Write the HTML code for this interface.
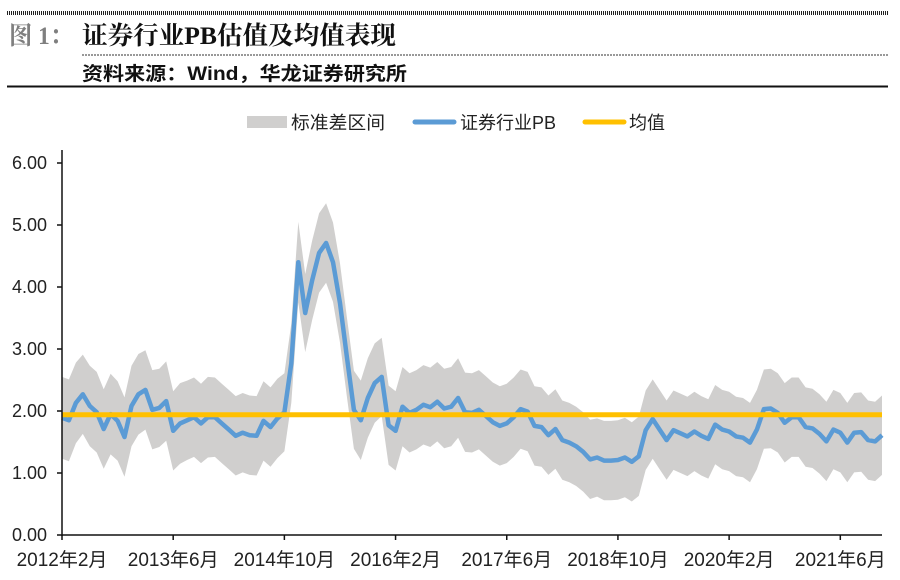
<!DOCTYPE html>
<html><head><meta charset="utf-8"><style>
body{margin:0;background:#fff;width:900px;height:580px;overflow:hidden;font-family:"Liberation Sans","Noto Sans CJK SC",sans-serif}
svg{display:block}
</style></head><body>
<svg id="c" width="900" height="580" xmlns="http://www.w3.org/2000/svg">
<line x1="7" y1="13" x2="888" y2="13" stroke="#222" stroke-width="4" stroke-dasharray="1 1"/>
<text x="9" y="44" font-family="'Liberation Serif','Noto Serif CJK SC',serif" font-weight="bold" font-size="25" fill="#7f7f7f" textLength="64" lengthAdjust="spacingAndGlyphs">图 1：</text>
<text x="82" y="44" font-family="'Liberation Serif','Noto Serif CJK SC',serif" font-weight="bold" font-size="25" fill="#111" textLength="314" lengthAdjust="spacingAndGlyphs">证券行业PB估值及均值表现</text>
<line x1="82" y1="55" x2="888" y2="55" stroke="#333" stroke-width="1" stroke-dasharray="2 1"/>
<text x="82" y="80" font-size="19" font-weight="bold" fill="#111" textLength="325" lengthAdjust="spacingAndGlyphs">资料来源：Wind，华龙证券研究所</text>
<line x1="7" y1="86.5" x2="888" y2="86.5" stroke="#111" stroke-width="2"/>
<g font-size="18" fill="#222">
<rect x="247" y="116" width="40" height="12" fill="#d0cfce"/>
<text x="291" y="129" textLength="94" lengthAdjust="spacingAndGlyphs">标准差区间</text>
<line x1="415" y1="122" x2="454" y2="122" stroke="#5b9bd5" stroke-width="5" stroke-linecap="round"/>
<text x="460" y="129" textLength="96" lengthAdjust="spacingAndGlyphs">证券行业PB</text>
<line x1="585" y1="122" x2="624" y2="122" stroke="#ffc000" stroke-width="5" stroke-linecap="round"/>
<text x="629" y="129" textLength="36" lengthAdjust="spacingAndGlyphs">均值</text>
</g>
<g id="plot"></g>
</svg>
<script>
const pbValues=[1.89,1.85,2.13,2.27,2.08,1.98,1.71,1.95,1.84,1.58,2.08,2.27,2.34,2.02,2.05,2.16,1.68,1.80,1.85,1.90,1.80,1.90,1.90,1.80,1.70,1.60,1.65,1.61,1.60,1.84,1.74,1.88,1.98,2.77,4.40,3.58,4.11,4.55,4.71,4.40,3.74,2.87,2.02,1.85,2.21,2.45,2.55,1.77,1.68,2.07,1.97,2.02,2.10,2.06,2.15,2.04,2.07,2.21,1.98,1.97,2.02,1.92,1.82,1.76,1.80,1.90,2.03,1.99,1.76,1.74,1.61,1.71,1.53,1.49,1.43,1.34,1.22,1.25,1.20,1.20,1.21,1.25,1.18,1.27,1.69,1.87,1.70,1.53,1.69,1.64,1.59,1.67,1.60,1.55,1.78,1.70,1.67,1.59,1.57,1.49,1.70,2.03,2.04,1.97,1.81,1.90,1.90,1.74,1.72,1.63,1.51,1.70,1.65,1.49,1.65,1.66,1.53,1.51,1.61];
const stdValues=[0.66,0.66,0.65,0.64,0.65,0.65,0.64,0.65,0.64,0.64,0.65,0.65,0.64,0.64,0.63,0.64,0.64,0.65,0.64,0.64,0.64,0.65,0.64,0.64,0.64,0.64,0.64,0.64,0.64,0.64,0.64,0.64,0.63,0.64,0.65,0.63,0.64,0.64,0.64,0.64,0.64,0.64,0.63,0.64,0.64,0.64,0.63,0.64,0.64,0.64,0.64,0.64,0.64,0.64,0.64,0.64,0.64,0.64,0.64,0.64,0.64,0.64,0.64,0.64,0.64,0.64,0.64,0.64,0.64,0.64,0.64,0.64,0.64,0.64,0.64,0.64,0.64,0.63,0.64,0.64,0.64,0.64,0.64,0.64,0.64,0.64,0.64,0.64,0.64,0.64,0.64,0.64,0.64,0.64,0.64,0.64,0.64,0.64,0.64,0.64,0.64,0.64,0.64,0.64,0.64,0.64,0.64,0.64,0.64,0.64,0.64,0.64,0.64,0.64,0.64,0.64,0.64,0.64,0.64];
const meanValue=1.94;
const yTicks=[0,1,2,3,4,5,6];
const xTickLabels=["2012年2月","2013年6月","2014年10月","2016年2月","2017年6月","2018年10月","2020年2月","2021年6月"];
const xTickIndex=[0,16,32,48,64,80,96,112];

const NS="http://www.w3.org/2000/svg";
const X0=62,X1=882,Y0=535,Y6=163;
const n=pbValues.length;
function xs(i){return X0+i*(X1-X0)/(n-1);}
function ys(v){return Y0-(v/6)*(Y0-Y6);}
const g=document.getElementById('plot');
function mk(t,a){const e=document.createElementNS(NS,t);for(const k in a)e.setAttribute(k,a[k]);g.appendChild(e);return e;}

let up=[],lo=[];
for(let i=0;i<n;i++){up.push(xs(i).toFixed(1)+","+ys(pbValues[i]+stdValues[i]).toFixed(1));lo.unshift(xs(i).toFixed(1)+","+ys(pbValues[i]-stdValues[i]).toFixed(1));}
const band=mk('polygon',{points:up.concat(lo).join(' '),fill:'#d0cfce'});



const pts=pbValues.map((v,i)=>xs(i).toFixed(1)+","+ys(v).toFixed(1)).join(' ');
const line=mk('polyline',{points:pts,fill:'none',stroke:'#5b9bd5','stroke-width':4.5,'stroke-linejoin':'round'});



const mean=mk('line',{x1:X0,x2:X1,y1:ys(meanValue),y2:ys(meanValue),stroke:'#ffc000','stroke-width':5});



const ya=mk('line',{x1:X0,x2:X0,y1:150,y2:Y0+1,stroke:'#111','stroke-width':1.5});


const xa=mk('line',{x1:X0,x2:X1,y1:Y0,y2:Y0,stroke:'#111','stroke-width':1.5});



yTicks.forEach(v=>{
  const t=mk('line',{x1:X0-5,x2:X0,y1:ys(v),y2:ys(v),stroke:'#111','stroke-width':1.5});
  
  
  const l=mk('text',{x:47,y:ys(v)+6,'text-anchor':'end','font-size':18,fill:'#222'});
  l.textContent=v.toFixed(2);
  
  
});
xTickIndex.forEach((idx,k)=>{
  const x=xs(idx);
  const t=mk('line',{x1:x,x2:x,y1:Y0,y2:Y0+5,stroke:'#111','stroke-width':1.5});
  
  
  const l=mk('text',{x:x,y:566,'text-anchor':'middle','font-size':19,fill:'#222'});
  l.textContent=xTickLabels[k];
  
  
});
</script>
</body></html>
